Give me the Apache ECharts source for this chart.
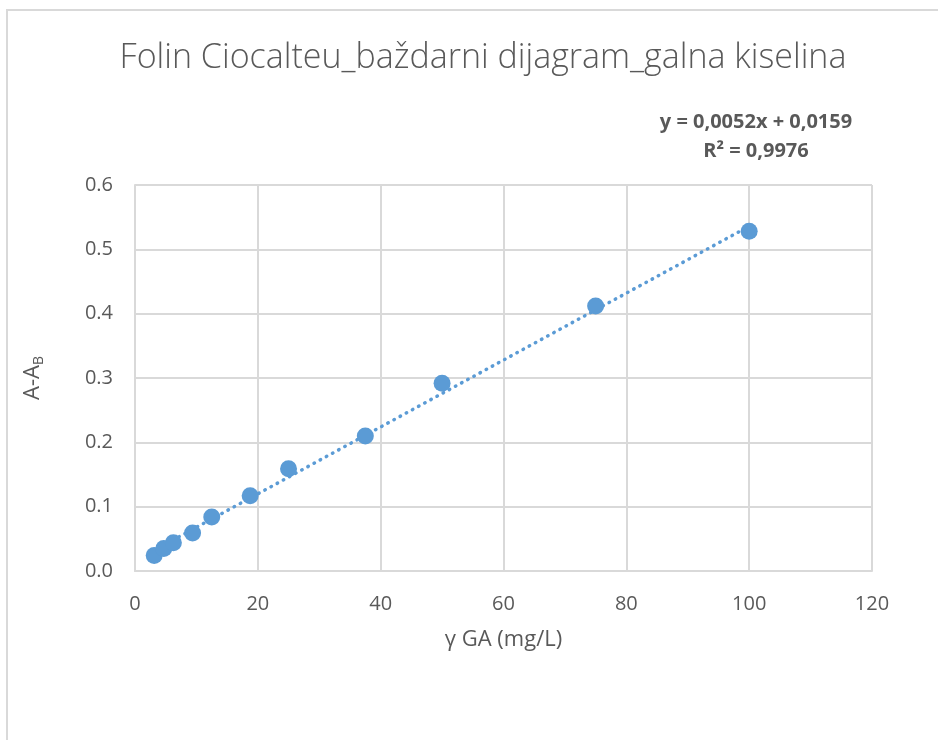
<!DOCTYPE html>
<html>
<head>
<meta charset="utf-8">
<script src="https://cdn.jsdelivr.net/npm/echarts@6/dist/echarts.min.js"></script>
<style>
  html, body { margin: 0; padding: 0; background: #fff; }
  #main { width: 938px; height: 740px; }
</style>
</head>
<body>
<div id="main"></div>
<script>
// koncentracija galne kiseline (mg/L) i izmjerena apsorbancija A-AB
var conc = [3.125, 4.6875, 6.25, 9.375, 12.5, 18.75, 25, 37.5, 50, 75, 100];
var absorb = [0.024, 0.035, 0.044, 0.059, 0.084, 0.117, 0.159, 0.210, 0.292, 0.412, 0.528];
// linearni trend iz dijagrama
var slope = 0.0052;
var intercept = 0.0159;
var r2 = 0.9976;

var points = conc.map(function (x, i) {
  return [x, absorb[i]];
});
var xMin = Math.min.apply(null, conc);
var xMax = Math.max.apply(null, conc);
var trend = [
  [xMin, slope * xMin + intercept],
  [xMax, slope * xMax + intercept],
];

var fmt = function (v, d) {
  return v.toFixed(d).replace(".", ",");
};

var myChart = echarts.init(document.getElementById("main"));
var font = "'Open Sans', 'Noto Sans', sans-serif";
var option = {
  backgroundColor: "#fff",
  animation: false,
  textStyle: { fontFamily: font },
  title: {
    text: "Folin Ciocalteu_baždarni dijagram_galna kiselina",
    left: 478,
    textAlign: "center",
    top: 36,
    textStyle: {
      fontFamily: font,
      fontSize: 34,
      fontWeight: 300,
      color: "#595959",
    },
  },
  graphic: [
    {
      type: "rect",
      shape: { x: 7, y: 10, width: 1000, height: 1000 },
      style: { fill: "none", stroke: "#d9d9d9", lineWidth: 2 },
      silent: true,
    },
    {
      type: "text",
      x: 756,
      y: 108,
      style: {
        text:
          "y = " + fmt(slope, 4) + "x + " + fmt(intercept, 4) +
          "\nR² = " + fmt(r2, 4),
        align: "center",
        fontFamily: font,
        fontSize: 20,
        fontWeight: "bold",
        lineHeight: 29,
        fill: "#595959",
      },
    },
  ],
  grid: {
    left: 135,
    right: 66,
    top: 185,
    bottom: 169,
  },
  xAxis: {
    type: "value",
    min: 0,
    max: 120,
    interval: 20,
    name: "γ GA (mg/L)",
    nameLocation: "middle",
    nameGap: 58,
    nameTextStyle: { fontSize: 22, color: "#595959", fontFamily: font },
    axisLine: { show: true, lineStyle: { color: "#d9d9d9", width: 2 } },
    axisTick: { show: false },
    axisLabel: { fontSize: 20, color: "#595959", margin: 23, fontFamily: font },
    splitLine: { show: true, lineStyle: { color: "#d9d9d9", width: 2 } },
  },
  yAxis: {
    type: "value",
    min: 0,
    max: 0.6,
    interval: 0.1,
    name: "{a|A-A}{b|B}",
    nameLocation: "middle",
    nameGap: 89,
    nameRotate: 90,
    nameTextStyle: {
      color: "#595959",
      rich: {
        a: { fontSize: 22, color: "#595959", fontFamily: font },
        b: { fontSize: 14, color: "#595959", fontFamily: font, padding: [12, 0, 0, 0] },
      },
    },
    axisLine: { show: true, lineStyle: { color: "#d9d9d9", width: 2 } },
    axisTick: { show: false },
    axisLabel: {
      fontSize: 20,
      color: "#595959",
      margin: 22,
      fontFamily: font,
      formatter: function (v) {
        return v.toFixed(1);
      },
    },
    splitLine: { show: true, lineStyle: { color: "#d9d9d9", width: 2 } },
  },
  series: [
    {
      name: "trend",
      type: "line",
      data: trend,
      symbol: "none",
      lineStyle: { color: "#5b9bd5", width: 3.5, type: [0.5, 6.5], cap: "round" },
      z: 2,
    },
    {
      name: "A-AB",
      type: "scatter",
      data: points,
      symbolSize: 17,
      itemStyle: { color: "#5b9bd5", opacity: 1 },
      z: 3,
    },
  ],
};
myChart.setOption(option);
</script>
</body>
</html>
